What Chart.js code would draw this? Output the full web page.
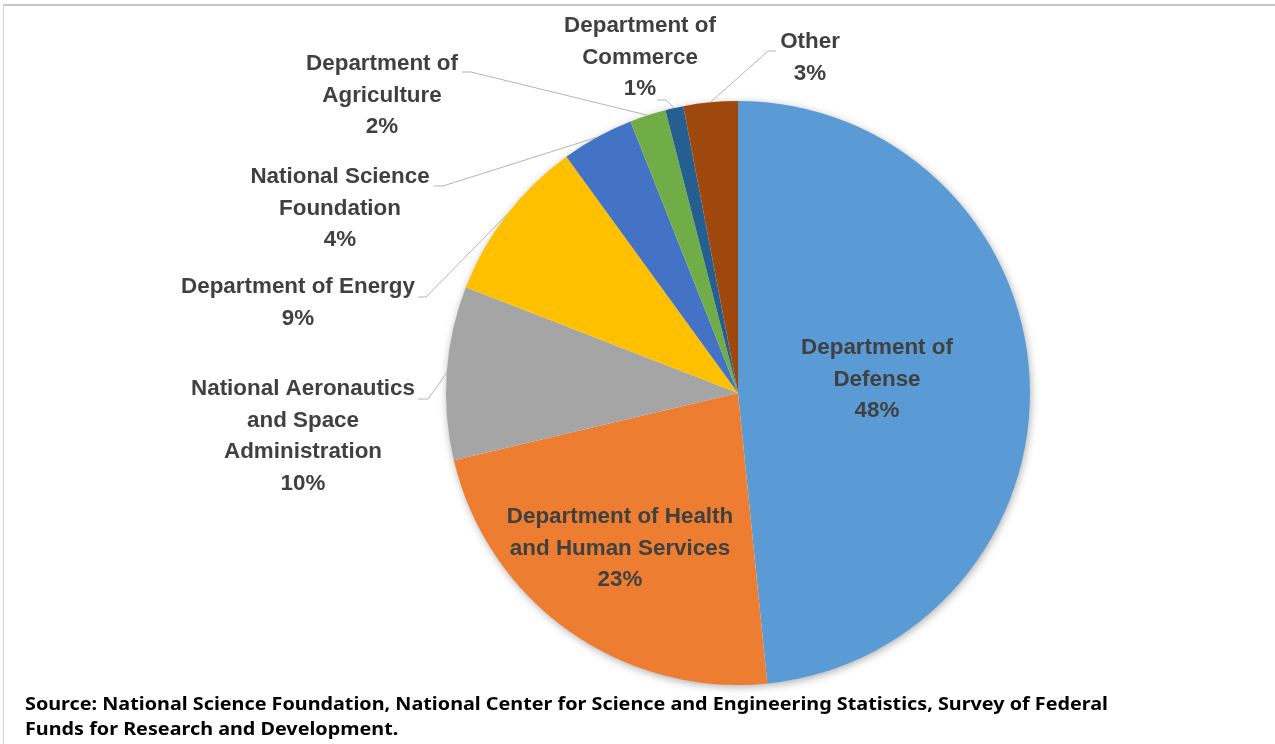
<!DOCTYPE html>
<html>
<head>
<meta charset="utf-8">
<script src="https://cdn.jsdelivr.net/npm/chart.js@4/dist/chart.umd.min.js"></script>
<style>
  html, body { margin: 0; padding: 0; background: #fff; }
  #wrap { position: relative; width: 1275px; height: 744px; overflow: hidden; background: #fff; }
  #frame { position: absolute; left: 3px; top: 4px; width: 1275px; height: 760px; border-left: 1px solid #cfcfcf; border-top: 2px solid #c8c8c8; box-sizing: border-box; pointer-events: none; }
  canvas { position: absolute; left: 0; top: 0; }
  .src { position: absolute; left: 25px; font-family: "Noto Sans", "Liberation Sans", sans-serif; font-weight: 700; font-size: 18px; color: #000; white-space: nowrap; transform-origin: 0 0; }
</style>
</head>
<body>
<div id="wrap">
  <canvas id="c" width="1275" height="744"></canvas>
  <div id="frame"></div>
  <div class="src" id="s1" style="top:691px">Source: National Science Foundation, National Center for Science and Engineering Statistics, Survey of Federal</div>
  <div class="src" id="s2" style="top:716px">Funds for Research and Development.</div>
</div>
<script>
// ---- data ----
const categories = [
  "Department of Defense",
  "Department of Health and Human Services",
  "National Aeronautics and Space Administration",
  "Department of Energy",
  "National Science Foundation",
  "Department of Agriculture",
  "Department of Commerce",
  "Other"
];
const shares = [48.4, 22.9, 9.6, 9.1, 4, 2, 1, 3];
const labelLines = [
  ["Department of", "Defense"],
  ["Department of Health", "and Human Services"],
  ["National Aeronautics", "and Space", "Administration"],
  ["Department of Energy"],
  ["National Science", "Foundation"],
  ["Department of", "Agriculture"],
  ["Department of", "Commerce"],
  ["Other"]
];
const colors = ["#5B9BD5", "#ED7D31", "#A5A5A5", "#FFC000", "#4472C4", "#70AD47", "#255E91", "#9E480E"];

// ---- label layout (text placement only) ----
const labelLayout = [
  { x: 877, y: 348, inside: true },
  { x: 620, y: 517, inside: true },
  { x: 303, y: 389, lead: [[418, 399], [428, 399]] },
  { x: 298, y: 287, lead: [[418, 297], [426, 297]] },
  { x: 340, y: 177, lead: [[434, 186], [443, 186]] },
  { x: 382, y: 64,  lead: [[462, 72], [471, 72]] },
  { x: 640, y: 26,  lead: [[657, 100], [666, 100]] },
  { x: 810, y: 42,  lead: [[776, 51], [768, 51]] }
];
const LINE_H = 31.5;
const LABEL_FONT = 'bold 22.4px "Liberation Sans", Arial, sans-serif';

const labelPlugin = {
  id: 'labelPlugin',
  beforeDatasetsDraw(chart) {
    const meta = chart.getDatasetMeta(0);
    const a = meta.data[0];
    const ctx = chart.ctx;
    ctx.save();
    ctx.shadowColor = 'rgba(0,0,0,0.35)';
    ctx.shadowBlur = 9;
    ctx.shadowOffsetX = 1;
    ctx.shadowOffsetY = 2;
    ctx.fillStyle = '#ffffff';
    ctx.beginPath();
    ctx.arc(a.x, a.y, a.outerRadius - 0.5, 0, Math.PI * 2);
    ctx.fill();
    ctx.restore();
  },
  afterDatasetsDraw(chart) {
    const ctx = chart.ctx;
    const meta = chart.getDatasetMeta(0);
    ctx.save();
    ctx.font = LABEL_FONT;
    ctx.textAlign = 'center';
    ctx.textBaseline = 'middle';
    meta.data.forEach((arc, i) => {
      const L = labelLayout[i];
      const lines = labelLines[i].concat([Math.round(shares[i]) + '%']);
      if (L.lead) {
        const mid = (arc.startAngle + arc.endAngle) / 2;
        const ex = arc.x + Math.cos(mid) * arc.outerRadius;
        const ey = arc.y + Math.sin(mid) * arc.outerRadius;
        ctx.strokeStyle = '#b4b4b4';
        ctx.lineWidth = 1;
        ctx.beginPath();
        ctx.moveTo(L.lead[0][0], L.lead[0][1]);
        ctx.lineTo(L.lead[1][0], L.lead[1][1]);
        ctx.lineTo(ex, ey);
        ctx.stroke();
      }
      ctx.fillStyle = '#404040';
      lines.forEach((t, k) => ctx.fillText(t, L.x, L.y + k * LINE_H));
    });
    ctx.restore();
  }
};

function build() {
  new Chart(document.getElementById('c'), {
    type: 'pie',
    data: {
      labels: categories,
      datasets: [{
        data: shares,
        backgroundColor: colors,
        borderWidth: 0
      }]
    },
    options: {
      responsive: false,
      animation: false,
      layout: { padding: { top: 101, bottom: 59, left: 446, right: 245 } },
      plugins: { legend: { display: false }, tooltip: { enabled: false }, title: { display: false } }
    },
    plugins: [labelPlugin]
  });
  const s1 = document.getElementById('s1');
  const s2 = document.getElementById('s2');
  const w = s1.getBoundingClientRect().width;
  const k = 1083 / w;
  s1.style.transform = 'scaleX(' + k + ')';
  s2.style.transform = 'scaleX(' + k + ')';
}

Promise.all([
  document.fonts.load(LABEL_FONT, 'Department'),
  document.fonts.load('bold 18px "Noto Sans"', 'Source')
]).then(build, build);
</script>
</body>
</html>
